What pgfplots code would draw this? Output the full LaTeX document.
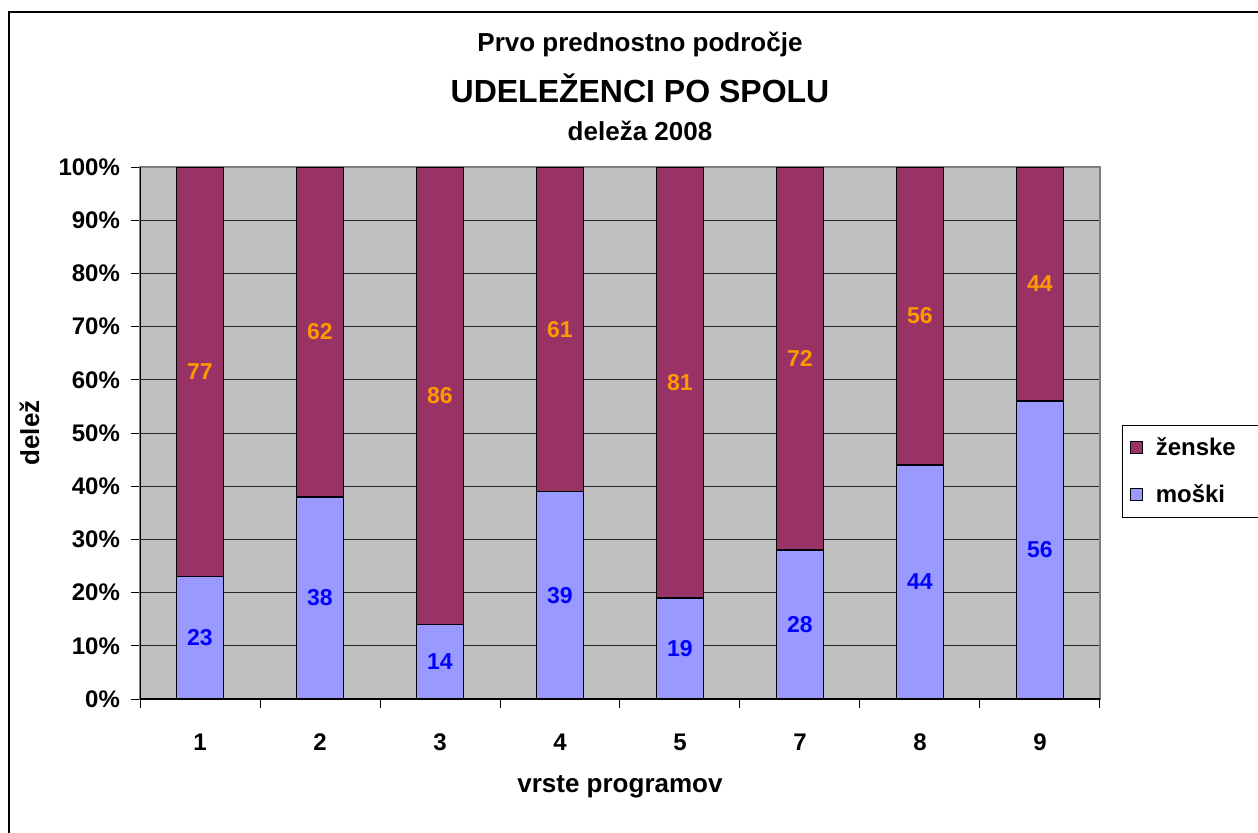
\documentclass[border=0pt]{standalone}
\usepackage{fontspec}
\setmainfont{Liberation Sans}
\usepackage{pgfplots}
\pgfplotsset{compat=1.18}
\definecolor{zen}{HTML}{993366}
\definecolor{mos}{HTML}{9999FF}
\definecolor{bgc}{HTML}{C0C0C0}
\definecolor{lblue}{HTML}{0000FF}
\definecolor{lorange}{HTML}{FF9900}
\pgfplotstableread{
x m z
1 23 77
2 38 62
3 14 86
4 39 61
5 19 81
6 28 72
7 44 56
8 56 44
}\datatab
\begin{document}
\begin{tikzpicture}
\useasboundingbox (0,0) rectangle (629pt,416pt);
\draw[black, line width=0.6pt] (4.5pt,-5pt) -- (4.5pt,410pt) -- (660pt,410pt);
\node[font=\bfseries\fontsize{13}{15}\selectfont] at (320pt,394pt) {Prvo prednostno področje};
\node[font=\bfseries\fontsize{16}{18}\selectfont] at (320pt,372pt) {UDELEŽENCI PO SPOLU};
\node[font=\bfseries\fontsize{13}{15}\selectfont] at (320pt,350.5pt) {deleža 2008};
\begin{axis}[
  at={(70pt,66.5pt)}, anchor=south west,
  scale only axis, width=480pt, height=266pt,
  ybar stacked, bar width=23.5pt,
  xmin=0.5, xmax=8.5, ymin=0, ymax=100,
  xtick={1,...,8}, xticklabels={1,2,3,4,5,7,8,9},
  minor xtick={0.5,1.5,...,8.5},
  ytick={0,10,...,100},
  minor ytick={0,10,...,100},
  yticklabels={0\%,10\%,20\%,30\%,40\%,50\%,60\%,70\%,80\%,90\%,100\%},
  tick pos=left, tick align=outside,
  major tick length=0pt, minor tick length=4.5pt,
  tick style={black, line width=0.5pt},
  ymajorgrids, grid style={black!85, line width=0.5pt},
  axis background/.style={fill=bgc},
  axis line style={draw=black!50, line width=0.6pt},
  /pgf/number format/assume math mode=true,
  ticklabel style={font=\bfseries\fontsize{12}{14}\selectfont},
  xticklabel shift=14pt,
  yticklabel shift=6.5pt,
  xlabel={vrste programov}, ylabel={delež},
  label style={font=\bfseries\fontsize{13}{15}\selectfont},
  xlabel style={at={(axis description cs:0.5,-0.165)}, anchor=center},
  ylabel style={at={(axis description cs:-0.115,0.5)}, anchor=center},
  legend style={at={(axis description cs:1.0229,0.5207)}, anchor=north west,
    draw=black, line width=0.5pt, fill=white,
    font=\bfseries\fontsize{12}{14}\selectfont,
    row sep=9pt, inner xsep=4pt, inner ysep=4pt, yshift=-1.5pt},
  legend cell align=left,
  reverse legend,
  legend image code/.code={\draw[#1, draw=black, line width=0.5pt] (0pt,-3pt) rectangle (6pt,3pt); \path (10pt,0pt);},
]
\addplot[fill=mos, draw=black, line width=0.8pt] table[x=x, y=m] {\datatab};
\addlegendentry{\makebox[62pt][l]{moški}}
\addplot[fill=zen, draw=black, line width=0.8pt] table[x=x, y=z] {\datatab};
\addlegendentry{\makebox[62pt][l]{ženske}}
\draw[black, line width=0.7pt] (rel axis cs:0,1) -- (rel axis cs:0,0) -- (rel axis cs:1,0);
\end{axis}
\begin{axis}[
  at={(70pt,66.5pt)}, anchor=south west,
  scale only axis, width=480pt, height=266pt,
  xmin=0.5, xmax=8.5, ymin=0, ymax=100,
  hide axis,
]
\addplot[draw=none, mark=none, nodes near coords, point meta=explicit symbolic,
  nodes near coords style={anchor=center, text=lblue, font=\bfseries\fontsize{11.5}{13}\selectfont}]
  table[meta=l] {
x y l
1 11.5 23
2 19 38
3 7 14
4 19.5 39
5 9.5 19
6 14 28
7 22 44
8 28 56
};
\addplot[draw=none, mark=none, nodes near coords, point meta=explicit symbolic,
  nodes near coords style={anchor=center, text=lorange, font=\bfseries\fontsize{11.5}{13}\selectfont}]
  table[meta=l] {
x y l
1 61.5 77
2 69 62
3 57 86
4 69.5 61
5 59.5 81
6 64 72
7 72 56
8 78 44
};
\end{axis}
\end{tikzpicture}
\end{document}
